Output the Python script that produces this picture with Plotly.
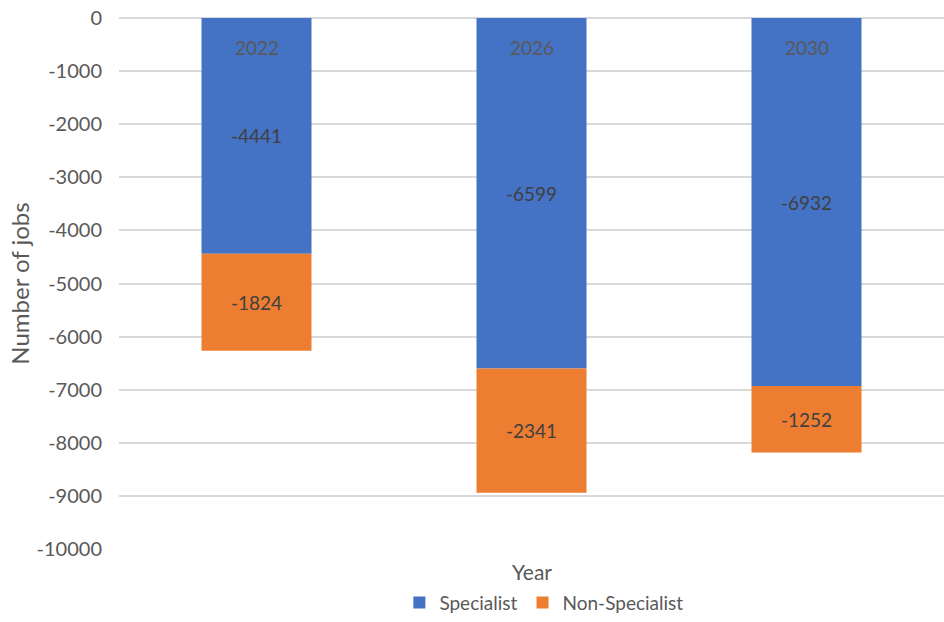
import plotly.graph_objects as go

years = ["2022", "2026", "2030"]
specialist = [-4441, -6599, -6932]
non_specialist = [-1824, -2341, -1252]
y_ticks = [0, -1000, -2000, -3000, -4000, -5000, -6000, -7000, -8000, -9000, -10000]
y_tick_labels = [str(v) for v in y_ticks]

FONT = "Lato"
GREY = "#595959"
DARK = "#404040"

fig = go.Figure()
fig.add_trace(go.Bar(
    x=years, y=specialist, name="Specialist",
    marker=dict(color="#4472C4", line=dict(width=0)),
    text=[str(v) for v in specialist], texttemplate="%{text}",
    textposition="inside", insidetextanchor="middle",
    textfont=dict(color=DARK, size=19, family=FONT),
))
fig.add_trace(go.Bar(
    x=years, y=non_specialist, name="Non-Specialist",
    marker=dict(color="#ED7D31", line=dict(width=0)),
    text=[str(v) for v in non_specialist], texttemplate="%{text}",
    textposition="inside", insidetextanchor="middle",
    textfont=dict(color=DARK, size=19, family=FONT),
))

# category labels sit just inside the bars, under the zero line (category index on x)
annotations = [dict(text=yr, x=i, y=1, xref="x", yref="paper", yanchor="top", yshift=-16,
                    showarrow=False, font=dict(size=19, color=GREY, family=FONT))
               for i, yr in enumerate(years)]
annotations.append(dict(text="Year", xref="paper", yref="paper", x=0.5, y=-0.043,
                        xanchor="center", yanchor="middle", showarrow=False,
                        font=dict(size=21, color=GREY, family=FONT)))

fig.update_layout(
    width=944, height=622,
    barmode="relative", bargap=0.6,
    plot_bgcolor="white", paper_bgcolor="white",
    margin=dict(l=119, r=0, t=18, b=69),
    font=dict(family=FONT, color=GREY, size=19),
    showlegend=True,
    legend=dict(orientation="h", x=0.515, xanchor="center", y=-0.101, yanchor="middle",
                font=dict(size=19, color=GREY), itemwidth=30, traceorder="normal"),
    xaxis=dict(type="category", showticklabels=False, showgrid=False, showline=False,
               zeroline=False, ticks="", automargin=False, range=[-0.5, 2.5]),
    yaxis=dict(range=[-10000, 0], tickvals=y_ticks, ticktext=y_tick_labels,
               showgrid=True, gridcolor="#D9D9D9", gridwidth=1.5,
               zeroline=True, zerolinecolor="#D9D9D9", zerolinewidth=1.5,
               showline=False, ticks="", ticklabelstandoff=16, automargin=False,
               tickfont=dict(size=20, color=GREY),
               title=dict(text="Number of jobs", font=dict(size=24, color=GREY), standoff=0)),
    annotations=annotations,
)

fig.write_html("out.html", config={"displayModeBar": False},
               post_script="document.body.style.margin='0';")
